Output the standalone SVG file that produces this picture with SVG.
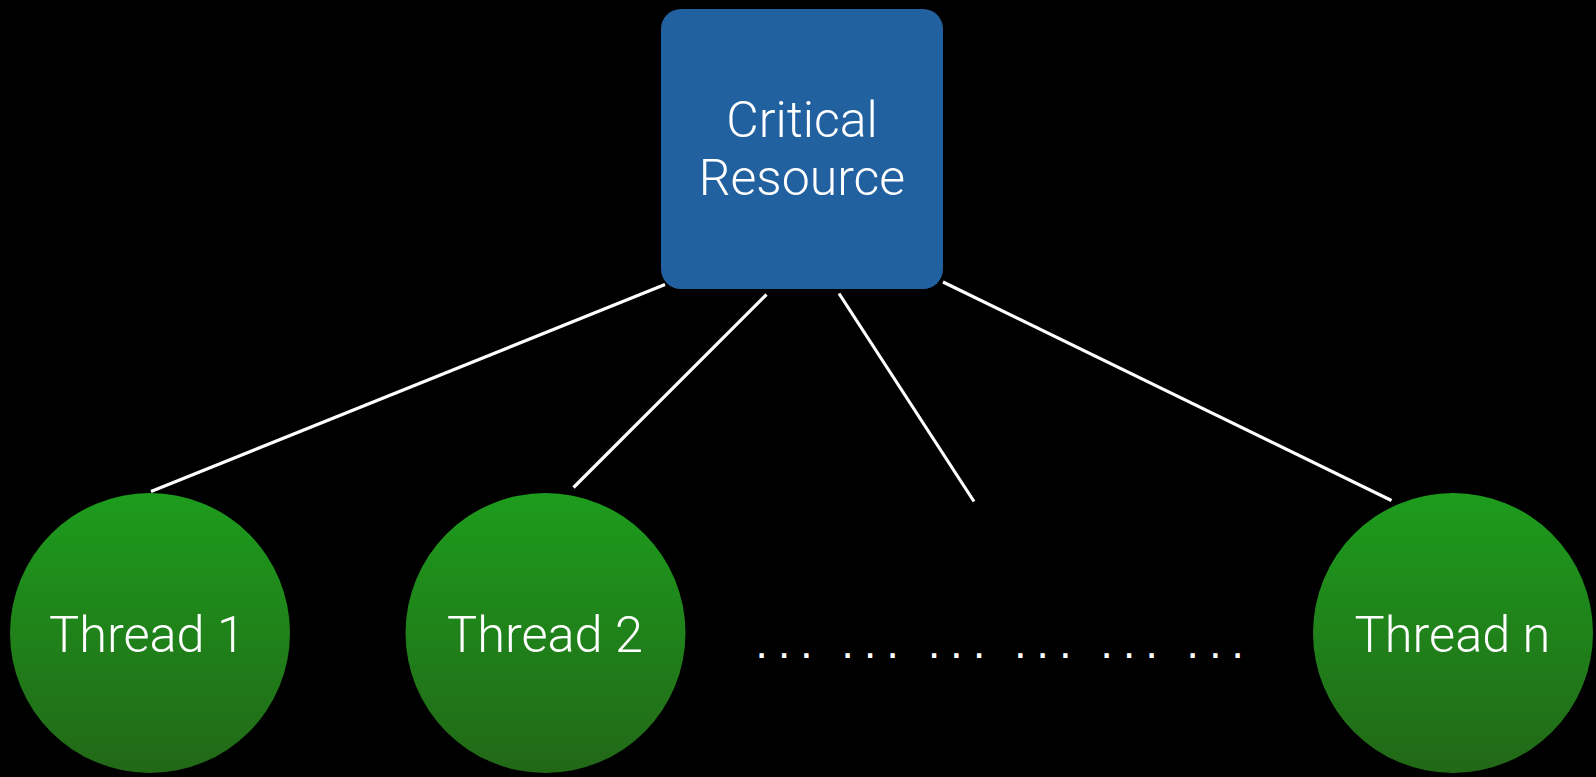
<svg xmlns="http://www.w3.org/2000/svg" width="1596" height="777" viewBox="0 0 1596 777">
  <defs>
    <linearGradient id="threadFill" x1="0" y1="0" x2="0" y2="1">
      <stop offset="0" stop-color="#1d9c1d"/>
      <stop offset="1" stop-color="#226817"/>
    </linearGradient>
    <style>
      .label { font-family: Roboto, "Liberation Sans", Arial, sans-serif; font-weight: 300; fill: #ffffff; text-anchor: middle; }
      .link { stroke: #ffffff; stroke-width: 3.2; stroke-linecap: butt; fill: none; }
      .thread { fill: url(#threadFill); }
      .resource { fill: #2161a0; }
      .dots { font-family: "Liberation Sans", Arial, sans-serif; font-size: 44px; fill: #ffffff; text-anchor: middle; }
    </style>
  </defs>

  <rect width="1596" height="777" fill="#000000"/>

  <!-- connectors from the shared resource to each thread -->
  <g id="connectors">
    <line class="link" x1="665" y1="284.5" x2="151" y2="491.5"/>
    <line class="link" x1="766.5" y1="294.5" x2="573.5" y2="487.5"/>
    <line class="link" x1="839" y1="293.5" x2="974" y2="501.5"/>
    <line class="link" x1="943" y1="282" x2="1391.5" y2="500.5"/>
  </g>

  <g id="critical-resource">
    <rect class="resource" x="661" y="9" width="282" height="280" rx="20" ry="20"/>
    <text class="label" x="802" y="137" font-size="50">Critical</text>
    <text class="label" x="802" y="195" font-size="50">Resource</text>
  </g>

  <g id="thread-1">
    <circle class="thread" cx="150" cy="633" r="140"/>
    <text class="label" x="147" y="652" font-size="50.5">Thread 1</text>
  </g>

  <g id="thread-2">
    <circle class="thread" cx="545.5" cy="633" r="140"/>
    <text class="label" x="545" y="652" font-size="50.5">Thread 2</text>
  </g>

  <g id="ellipsis">
    <text class="dots" y="657.5" x="761.7 784 806.3 847.7 870 892.7 934 956.3 979 1020.3 1042.7 1065.3 1106.7 1129 1151.7 1192.7 1215.3 1237.7">..................</text>
  </g>

  <g id="thread-n">
    <circle class="thread" cx="1453" cy="633" r="140"/>
    <text class="label" x="1452.5" y="652" font-size="50.5">Thread n</text>
  </g>
</svg>
